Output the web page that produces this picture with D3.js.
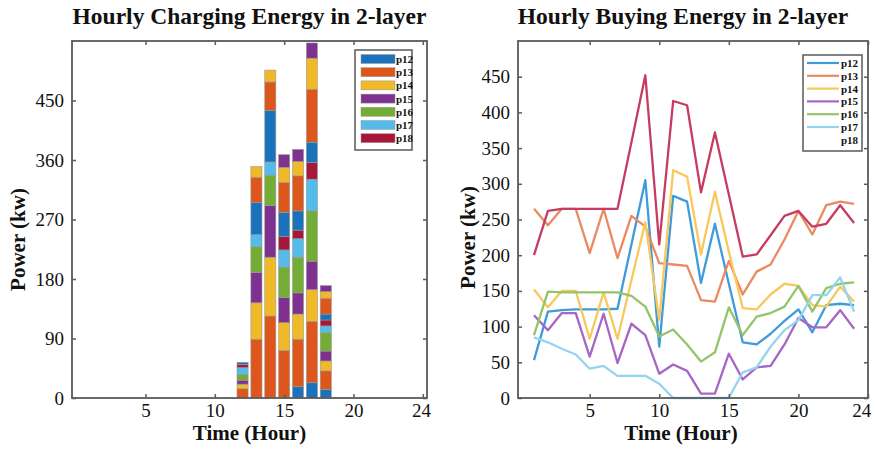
<!DOCTYPE html>
<html>
<head>
<meta charset="utf-8">
<script src="https://cdn.jsdelivr.net/npm/d3@7"></script>
<style>
  html, body { margin: 0; padding: 0; background: #fff; }
  svg { display: block; }
  text { font-family: "Liberation Serif", "Times New Roman", serif; fill: #111; }
</style>
</head>
<body>
<svg id="chart" width="875" height="451"></svg>
<script>
// ---------------- DATA ----------------
const legendNames = ["p12", "p13", "p14", "p15", "p16", "p17", "p18"];

// Left chart: hourly charging energy, stacked (bottom to top)
const barHours = [12, 13, 14, 15, 16, 17, 18];
const charge_p12  = [0, 0, 0, 0, 17, 23, 13];
const charge_p13  = [14, 89, 124, 72, 72, 93, 28];
const charge_p14  = [7, 55, 89, 42, 38, 48, 15];
const charge_p15  = [6, 46, 78, 38, 32, 43, 15];
const charge_p16  = [9, 39, 46, 46, 54, 76, 28];
const charge_p17  = [10, 18, 20, 26, 28, 48, 10];
const charge_p18  = [5, 0, 0, 20, 13, 25, 9];
const charge_p12b = [3, 49, 78, 37, 29, 31, 9];
const charge_p13b = [0, 38, 43, 45, 53, 80, 24];
const charge_p14b = [0, 16, 18, 23, 22, 47, 10];
const charge_p15b = [0, 0, 0, 19, 18, 23, 9];

// Right chart: hourly buying energy, hours 1..24
const lineHours = [1,2,3,4,5,6,7,8,9,10,11,12,13,14,15,16,17,18,19,20,21,22,23,24];
const buy_p12 = [53,121,123,124,124,124,125,215,305,72,283,275,161,244,160,78,75,90,108,124,92,130,132,130];
const buy_p13 = [265,242,265,265,203,265,196,255,240,189,187,185,137,135,192,145,177,187,222,262,229,270,275,272];
const buy_p14 = [152,127,150,150,83,148,83,165,246,109,319,310,201,289,205,126,124,145,160,157,130,128,156,135];
const buy_p15 = [116,95,119,119,58,118,49,104,88,34,47,38,6,6,62,26,43,45,75,112,99,99,123,97];
const buy_p16 = [88,149,148,148,148,148,148,143,128,86,96,75,51,64,127,88,114,119,128,157,121,154,160,162];
const buy_p17 = [85,78,69,61,41,45,31,31,31,20,0,0,0,0,0,36,43,72,95,109,144,144,169,121];
const buy_p18 = [200,262,265,265,265,265,265,358,452,215,416,410,288,372,285,198,201,228,255,262,240,244,270,245];

// Axis ticks
const xTickVals = [5, 10, 15, 20, 25];
const xTickLabels = ["5", "10", "15", "20", "24"];
const yTicksLeft = [0, 90, 180, 270, 360, 450];
const yTicksRight = [0, 50, 100, 150, 200, 250, 300, 350, 400, 450];

// ---------------- STYLE ----------------
const barColors = ["#1a72bb", "#dd561b", "#efb927", "#7e318f", "#74ad35", "#55bbea", "#a6173a"];
const lineColors = ["#3f9bd9", "#ea8a62", "#f8c85e", "#a566c6", "#93c46a", "#93d4f0", "#c63c60"];
const axisColor = "#5a5a5a";

const svg = d3.select("#chart");

function drawFrame(g, x, y, x0, x1, y0, y1, yTicks, lastDx) {
  const xAxis = d3.axisBottom(x).tickValues(xTickVals)
    .tickFormat((d, i) => xTickLabels[i]).tickSizeInner(-4).tickSizeOuter(0).tickPadding(6);
  const xTop = d3.axisTop(x).tickValues(xTickVals).tickFormat("").tickSizeInner(-4).tickSizeOuter(0);
  const yAxis = d3.axisLeft(y).tickValues(yTicks).tickSizeInner(-4).tickSizeOuter(0).tickPadding(8);
  const yRight = d3.axisRight(y).tickValues(yTicks).tickFormat("").tickSizeInner(-4).tickSizeOuter(0);

  const gx = g.append("g").attr("transform", `translate(0,${y1})`).call(xAxis);
  const gt = g.append("g").attr("transform", `translate(0,${y0})`).call(xTop);
  const gy = g.append("g").attr("transform", `translate(${x0},0)`).call(yAxis);
  const gr = g.append("g").attr("transform", `translate(${x1},0)`).call(yRight);
  [gx, gt, gy, gr].forEach(a => {
    a.select(".domain").remove();
    a.selectAll(".tick line").attr("stroke", axisColor).attr("stroke-width", 1.5);
    a.selectAll(".tick text").style("font-size", "19px").style("font-family", "Liberation Serif, serif").attr("fill", "#222");
  });
  gx.selectAll(".tick text").filter((d, i) => i === xTickVals.length - 1).attr("dx", lastDx);
  g.append("rect").attr("x", x0).attr("y", y0).attr("width", x1 - x0).attr("height", y1 - y0)
    .attr("fill", "none").attr("stroke", axisColor).attr("stroke-width", 1.8);
}

// ---------------- LEFT CHART ----------------
{
  const x0 = 72, x1 = 427, y0 = 41, y1 = 398;
  const g = svg.append("g");
  const x = d3.scaleLinear().domain([-0.3, 25.3]).range([x0, x1]);
  const y = d3.scaleLinear().domain([0, 540]).range([y1, y0]);

  const layers = [charge_p12, charge_p13, charge_p14, charge_p15, charge_p16, charge_p17, charge_p18,
                  charge_p12b, charge_p13b, charge_p14b, charge_p15b];
  const table = barHours.map((h, i) => {
    const row = { hour: h };
    layers.forEach((arr, k) => row["s" + k] = arr[i]);
    return row;
  });
  const keys = layers.map((_, k) => "s" + k);
  const stacked = d3.stack().keys(keys)(table);
  const bw = (x(1) - x(0)) * 0.8;

  const gb = g.append("g");
  stacked.forEach((layer, k) => {
    gb.selectAll(null).data(layer.filter(d => d[1] - d[0] > 0)).enter().append("rect")
      .attr("x", d => x(d.data.hour) - bw / 2)
      .attr("width", bw)
      .attr("y", d => y(d[1]))
      .attr("height", d => y(d[0]) - y(d[1]))
      .attr("fill", barColors[k % 7])
      .attr("stroke", "#999").attr("stroke-width", 0.6);
  });

  drawFrame(g, x, y, x0, x1, y0, y1, yTicksLeft, "-0.1em");

  g.append("text").attr("x", (x0 + x1) / 2).attr("y", 24).attr("text-anchor", "middle")
    .style("font-size", "23.5px").style("font-weight", "bold").text("Hourly Charging Energy in 2-layer");
  g.append("text").attr("x", (x0 + x1) / 2).attr("y", 440).attr("text-anchor", "middle")
    .style("font-size", "21px").style("font-weight", "bold").text("Time (Hour)");
  g.append("text").attr("transform", `translate(25,${(y0 + y1) / 2 + 20}) rotate(-90)`).attr("text-anchor", "middle")
    .style("font-size", "21px").style("font-weight", "bold").text("Power (kw)");

  // legend
  const lx = 355, ly = 50, lw = 57, lh = 100;
  const lg = g.append("g");
  lg.append("rect").attr("x", lx).attr("y", ly).attr("width", lw).attr("height", lh)
    .attr("fill", "#fff").attr("stroke", axisColor).attr("stroke-width", 1.5);
  legendNames.forEach((n, i) => {
    const cy = ly + 9 + i * 13.2;
    lg.append("rect").attr("x", lx + 6).attr("y", cy - 4.5).attr("width", 34).attr("height", 9)
      .attr("fill", barColors[i]).attr("stroke", "#999").attr("stroke-width", 0.5);
    lg.append("text").attr("x", lx + 41).attr("y", cy + 4).style("font-size", "11px")
      .style("font-weight", "bold").text(n);
  });
}

// ---------------- RIGHT CHART ----------------
{
  const x0 = 518, x1 = 868, y0 = 41, y1 = 398;
  const g = svg.append("g");
  const x = d3.scaleLinear().domain([-0.15, 25]).range([x0, x1]);
  const y = d3.scaleLinear().domain([0, 500]).range([y1, y0]);

  const series = [buy_p12, buy_p13, buy_p14, buy_p15, buy_p16, buy_p17, buy_p18];
  const line = d3.line().x((d, i) => x(lineHours[i])).y(d => y(d));
  series.forEach((s, k) => {
    g.append("path").attr("d", line(s)).attr("fill", "none")
      .attr("stroke", lineColors[k]).attr("stroke-width", 2.3).attr("stroke-linejoin", "round");
  });

  drawFrame(g, x, y, x0, x1, y0, y1, yTicksRight, "-0.35em");

  g.append("text").attr("x", (x0 + x1) / 2 - 10).attr("y", 24).attr("text-anchor", "middle")
    .style("font-size", "23.5px").style("font-weight", "bold").text("Hourly Buying Energy in 2-layer");
  g.append("text").attr("x", (x0 + x1) / 2 - 12).attr("y", 440).attr("text-anchor", "middle")
    .style("font-size", "21px").style("font-weight", "bold").text("Time (Hour)");
  g.append("text").attr("transform", `translate(475,${(y0 + y1) / 2 + 18}) rotate(-90)`).attr("text-anchor", "middle")
    .style("font-size", "21px").style("font-weight", "bold").text("Power (kw)");

  const lx = 803, ly = 55, lw = 59, lh = 96;
  const lg = g.append("g");
  lg.append("rect").attr("x", lx).attr("y", ly).attr("width", lw).attr("height", lh)
    .attr("fill", "#fff").attr("stroke", axisColor).attr("stroke-width", 1.5);
  legendNames.forEach((n, i) => {
    const cy = ly + 8 + i * 12.8;
    if (i < 6) {
      lg.append("line").attr("x1", lx + 4).attr("x2", lx + 36).attr("y1", cy).attr("y2", cy)
        .attr("stroke", lineColors[i]).attr("stroke-width", 2.2);
    }
    lg.append("text").attr("x", lx + 38).attr("y", cy + 4).style("font-size", "11px")
      .style("font-weight", "bold").text(n);
  });
}
</script>
</body>
</html>
